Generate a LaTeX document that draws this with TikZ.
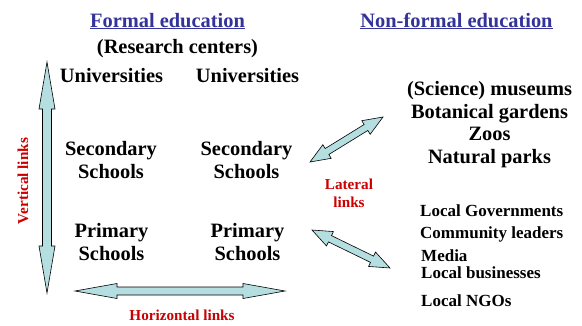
\documentclass[tikz,border=0pt]{standalone}
\usepackage{xcolor}
\usepackage{fontspec}
\setmainfont{Liberation Serif}
\usetikzlibrary{calc}

\definecolor{headblue}{RGB}{51,51,153}
\definecolor{linkred}{RGB}{204,0,0}
\definecolor{arrowfill}{RGB}{180,222,224}

\tikzset{
  big/.style={font=\fontsize{20.4}{22.5}\selectfont\bfseries, anchor=base, align=center, inner sep=0pt},
  small/.style={font=\fontsize{17}{20}\selectfont\bfseries, anchor=base west, inner sep=0pt},
  redlabel/.style={font=\fontsize{15.2}{18}\selectfont\bfseries, text=linkred, anchor=base, align=center, inner sep=0pt},
  heading/.style={big, text=headblue},
  blockarrow/.style={fill=arrowfill, draw=black, line width=0.6pt, line join=miter}
}

% double headed block arrow between two named coordinates
% #1,#2 ends, #3 head length, #4 half head width, #5 half shaft width
\newcommand{\linkarrow}[5]{%
  \coordinate (#1h) at ($(#1)!#3!(#2)$);
  \coordinate (#2h) at ($(#2)!#3!(#1)$);
  \filldraw[blockarrow] (#1) -- ($(#1h)!#4!90:(#2)$) -- ($(#1h)!#5!90:(#2)$)
    -- ($(#2h)!#5!-90:(#1)$) -- ($(#2h)!#4!-90:(#1)$) -- (#2)
    -- ($(#2h)!#4!90:(#1)$) -- ($(#2h)!#5!90:(#1)$)
    -- ($(#1h)!#5!-90:(#2)$) -- ($(#1h)!#4!-90:(#2)$) -- cycle;}

\begin{document}
\begin{tikzpicture}[x=1pt, y=-1pt]
  \useasboundingbox[fill=white] (0,0) rectangle (582,325);

  % headings
  \node[heading] (formal) at (167.5,27) {\underline{Formal education}};
  \node[heading] (nonformal) at (456.5,27) {\underline{Non-formal education}};

  % formal education (multi-line nodes sit on their last baseline)
  \node[big] (research) at (177.5,53) {(Research centers)};
  \node[big] (uniA) at (111.5,82) {Universities};
  \node[big] (uniB) at (247.5,82) {Universities};
  \node[big] (secA) at (111,178) {Secondary\\Schools};
  \node[big] (secB) at (246.5,178) {Secondary\\Schools};
  \node[big] (primA) at (111.5,260) {Primary\\Schools};
  \node[big] (primB) at (247.5,260) {Primary\\Schools};

  % non-formal education
  \node[big] (museums) at (489.5,163) {(Science) museums\\Botanical gardens\\Zoos\\Natural parks};
  \node[small] (govs) at (420,216) {Local Governments};
  \node[small] (leaders) at (420,238) {Community leaders};
  \node[small] (media) at (421,261) {Media};
  \node[small] (business) at (421,278) {Local businesses};
  \node[small] (ngos) at (421,306) {Local NGOs};

  % links
  \node[redlabel, rotate=90] (vlabel) at (28,181) {Vertical links};
  \node[redlabel] (hlabel) at (182,320) {Horizontal links};
  \node[redlabel] (llabel) at (349,207) {Lateral\\links};

  \coordinate (vtop) at (47,62);
  \coordinate (vbot) at (47,293);
  \coordinate (hleft) at (75,291);
  \coordinate (hright) at (285,291);
  \coordinate (latAin) at (310,162);
  \coordinate (latAout) at (383,117);
  \coordinate (latBin) at (312,230);
  \coordinate (latBout) at (390,268);

  \linkarrow{vtop}{vbot}{47pt}{8pt}{4.5pt}
  \linkarrow{hleft}{hright}{42pt}{7.5pt}{4pt}
  \linkarrow{latAin}{latAout}{20pt}{8pt}{3.5pt}
  \linkarrow{latBin}{latBout}{20pt}{8pt}{3.5pt}
\end{tikzpicture}
\end{document}
